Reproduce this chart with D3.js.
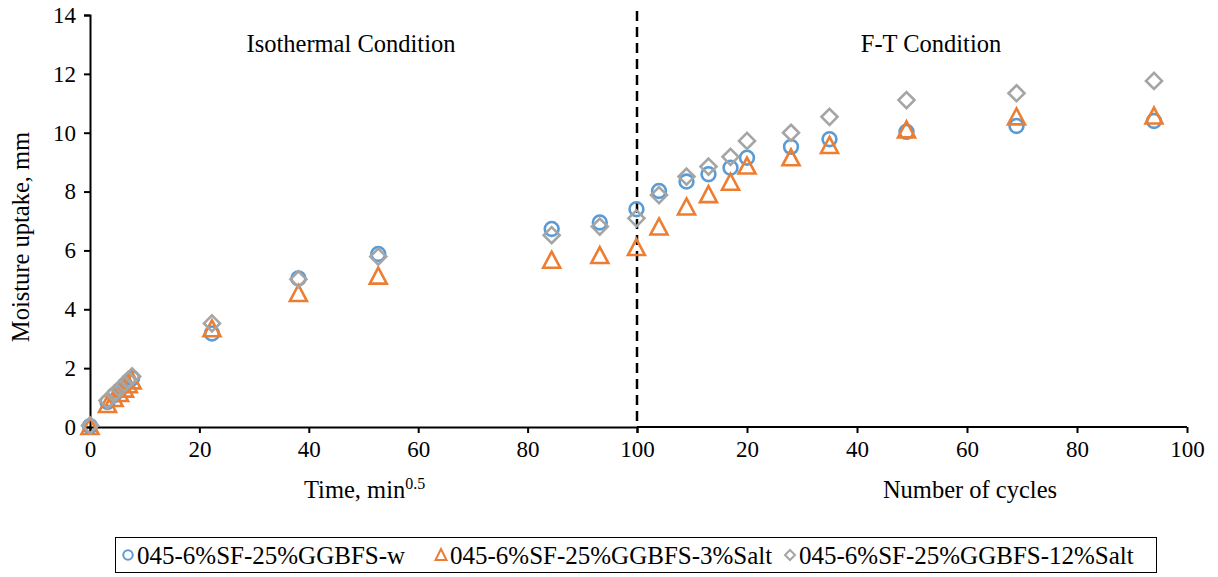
<!DOCTYPE html>
<html>
<head>
<meta charset="utf-8">
<script src="https://cdn.jsdelivr.net/npm/d3@7"></script>
<style>
  html, body { margin: 0; padding: 0; background: #fff; }
  svg text { font-family: "Liberation Serif", "Times New Roman", serif; fill: #000; }
</style>
</head>
<body>
<svg id="chart" width="1218" height="577"></svg>
<script>
// isothermal part, x = time in min^0.5
var timeX   = [0, 3.2, 4.4, 5.4, 6.3, 7.0, 7.7, 22.3, 38.1, 52.7, 84.4, 93.2, 99.9];
var timeW   = [0.03, 0.85, 1.08, 1.25, 1.42, 1.55, 1.66, 3.18, 5.05, 5.88, 6.73, 6.95, 7.40];
var timeS3  = [0.0, 0.75, 0.95, 1.12, 1.27, 1.42, 1.55, 3.32, 4.52, 5.11, 5.65, 5.81, 6.08];
var timeS12 = [0.05, 0.9, 1.12, 1.3, 1.46, 1.6, 1.72, 3.52, 5.02, 5.79, 6.52, 6.81, 7.09];

// freeze-thaw part, x = number of cycles
var cycleX   = [4, 9, 13, 17, 20, 28, 35, 49, 69, 94];
var cycleW   = [8.02, 8.34, 8.59, 8.81, 9.15, 9.52, 9.78, 10.03, 10.23, 10.40];
var cycleS3  = [6.78, 7.46, 7.88, 8.30, 8.85, 9.13, 9.55, 10.08, 10.52, 10.55];
var cycleS12 = [7.88, 8.51, 8.85, 9.18, 9.72, 10.00, 10.54, 11.11, 11.34, 11.76];

var seriesNames = ['045-6%SF-25%GGBFS-w', '045-6%SF-25%GGBFS-3%Salt', '045-6%SF-25%GGBFS-12%Salt'];
var seriesColors = ['#5B9BD5', '#ED7D31', '#A5A5A5'];
var seriesShapes = ['circle', 'triangle', 'diamond'];

var timeTicks = [0, 20, 40, 60, 80, 100];
var cycleTicks = [20, 40, 60, 80, 100];
var yTicks = [0, 2, 4, 6, 8, 10, 12, 14];

(function draw() {
    var svg = d3.select('#chart');
    var pLeft = 90, pRight = 1187, pTop = 15, pBottom = 427;
    var mid = 637;

    var xTime = d3.scaleLinear().domain([0, 100]).range([pLeft, mid]);
    var xCycle = d3.scaleLinear().domain([0, 100]).range([mid, pRight]);
    var y = d3.scaleLinear().domain([0, 14]).range([pBottom, pTop]);

    // axes
    var yAxis = svg.append('g')
        .attr('transform', 'translate(' + pLeft + ',0)')
        .call(d3.axisLeft(y).tickValues(yTicks).tickSize(6).tickPadding(8));
    var xAxisT = svg.append('g')
        .attr('transform', 'translate(0,' + pBottom + ')')
        .call(d3.axisBottom(xTime).tickValues(timeTicks).tickSize(6).tickPadding(8));
    var xAxisC = svg.append('g')
        .attr('transform', 'translate(0,' + pBottom + ')')
        .call(d3.axisBottom(xCycle).tickValues(cycleTicks).tickSize(6).tickPadding(8));

    [yAxis, xAxisT, xAxisC].forEach(function(g) {
        g.select('.domain').attr('stroke', '#000').attr('stroke-width', 2);
        g.selectAll('.tick line').attr('stroke', '#000').attr('stroke-width', 2);
        g.selectAll('.tick text')
            .attr('font-family', '"Liberation Serif", serif')
            .attr('font-size', 23)
            .attr('fill', '#000');
    });
    xAxisC.select('.domain').attr('d', 'M' + mid + ',0H' + pRight);

    // divider between the two regimes
    svg.append('line')
        .attr('x1', mid).attr('x2', mid)
        .attr('y1', y(14) - 4).attr('y2', pBottom)
        .attr('stroke', '#000')
        .attr('stroke-width', 2.5)
        .attr('stroke-dasharray', '10,6');

    // labels
    svg.append('text')
        .attr('x', 351).attr('y', 52)
        .attr('text-anchor', 'middle')
        .attr('font-size', 24.5)
        .text('Isothermal Condition');
    svg.append('text')
        .attr('x', 931).attr('y', 52)
        .attr('text-anchor', 'middle')
        .attr('font-size', 24.5)
        .text('F-T Condition');

    var tl = svg.append('text')
        .attr('x', 304).attr('y', 498)
        .attr('font-size', 24.5);
    tl.append('tspan').text('Time, min');
    tl.append('tspan').attr('font-size', 16).attr('dy', -9).text('0.5');

    svg.append('text')
        .attr('x', 970).attr('y', 498)
        .attr('text-anchor', 'middle')
        .attr('font-size', 24.5)
        .text('Number of cycles');

    svg.append('text')
        .attr('transform', 'translate(29,' + ((pTop + pBottom) / 2 + 16) + ') rotate(-90)')
        .attr('text-anchor', 'middle')
        .attr('font-size', 24.5)
        .text('Moisture uptake, mm');

    // markers
    function markerPath(shape) {
        if (shape === 'circle') return d3.symbol().type(d3.symbolCircle).size(150)();
        if (shape === 'triangle') return 'M0,-9L8.5,7L-8.5,7Z';
        return 'M0,-8L8,0L0,8L-8,0Z';
    }

    var series = [
        {time: timeW, cycle: cycleW},
        {time: timeS3, cycle: cycleS3},
        {time: timeS12, cycle: cycleS12}
    ];

    series.forEach(function(s, i) {
        var pts = timeX.map(function(t, j) { return [xTime(t), y(s.time[j])]; })
            .concat(cycleX.map(function(c, j) { return [xCycle(c), y(s.cycle[j])]; }));
        svg.append('g').selectAll('path')
            .data(pts)
            .enter().append('path')
            .attr('d', markerPath(seriesShapes[i]))
            .attr('transform', function(d) { return 'translate(' + d[0] + ',' + d[1] + ')'; })
            .attr('fill', 'none')
            .attr('stroke', seriesColors[i])
            .attr('stroke-width', 2.6);
    });

    // legend
    var legend = svg.append('g');
    legend.append('rect')
        .attr('x', 115.5).attr('y', 537.5)
        .attr('width', 1041).attr('height', 35)
        .attr('fill', '#fff')
        .attr('stroke', '#000')
        .attr('stroke-width', 1);

    var legendX = [128, 441, 790];
    seriesNames.forEach(function(name, i) {
        legend.append('path')
            .attr('d', seriesShapes[i] === 'circle' ? d3.symbol().type(d3.symbolCircle).size(70)()
                : seriesShapes[i] === 'triangle' ? 'M0,-6L5.5,5L-5.5,5Z' : 'M0,-5L5,0L0,5L-5,0Z')
            .attr('transform', 'translate(' + legendX[i] + ',555)')
            .attr('fill', 'none')
            .attr('stroke', seriesColors[i])
            .attr('stroke-width', 2);
        legend.append('text')
            .attr('x', legendX[i] + 9).attr('y', 564)
            .attr('font-size', 25)
            .text(name);
    });
})();
</script>
</body>
</html>
